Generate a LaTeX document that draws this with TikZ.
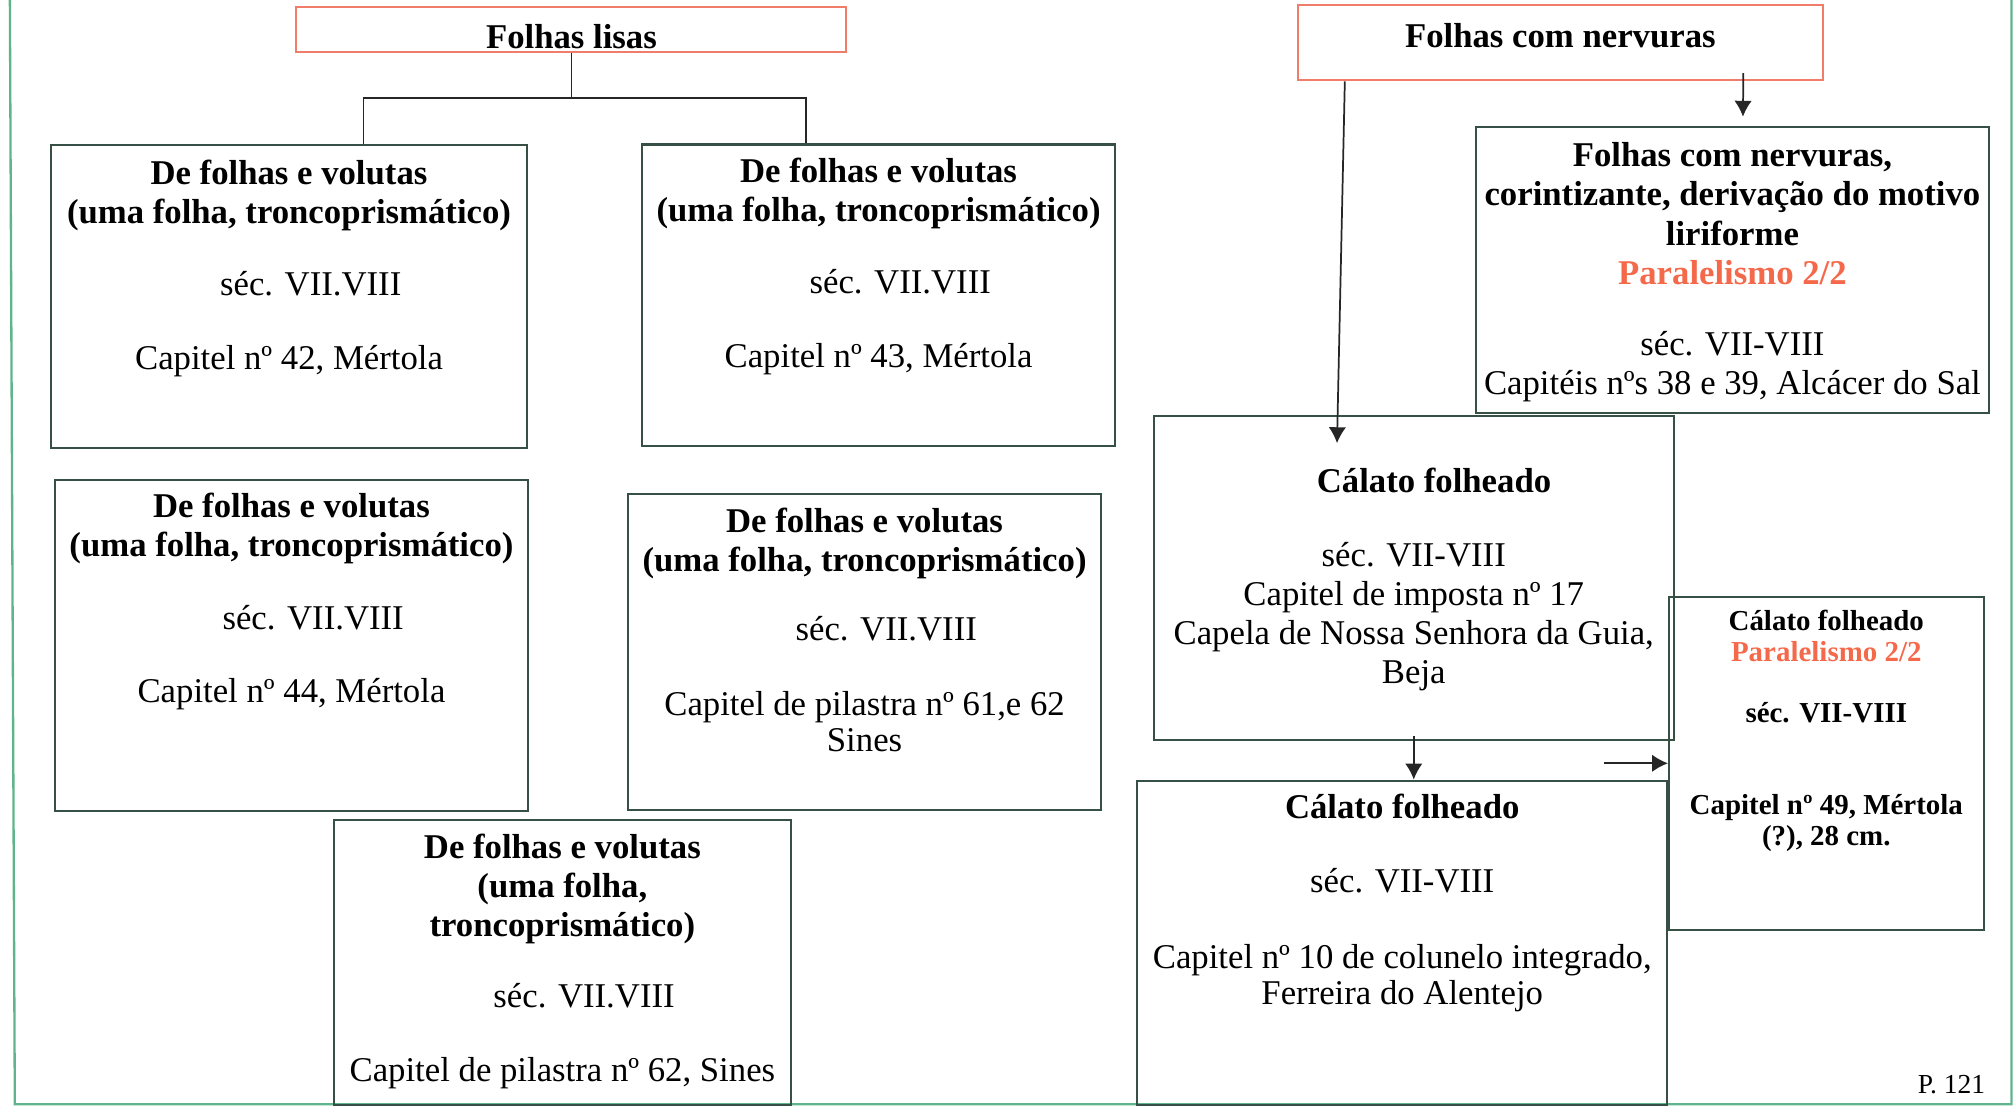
\documentclass[tikz,border=0pt]{standalone}
\usepackage{fontspec}
\setmainfont{Liberation Serif}
\usetikzlibrary{positioning,arrows.meta}
\definecolor{verdeescuro}{RGB}{55,80,70}
\definecolor{salmao}{RGB}{240,125,105}
\definecolor{laranja}{RGB}{245,105,75}
\definecolor{moldura}{RGB}{95,180,140}
\begin{document}
\begin{tikzpicture}[
  caixa/.style={draw=verdeescuro, line width=0.7pt, inner sep=0pt},
  topo/.style={draw=salmao, line width=0.7pt, inner sep=0pt},
  texto/.style={align=center, inner sep=0pt, font=\fontsize{12}{13.5}\selectfont},
  negrito/.style={align=center, inner sep=0pt, font=\fontsize{12}{13.5}\selectfont\bfseries},
  miudo/.style={align=center, inner sep=0pt, font=\fontsize{10}{10.9}\selectfont\bfseries},
  liga/.style={line width=0.6pt, black!85},
  seta/.style={liga, -{Latex[length=5.5pt,width=6pt]}}
]
\useasboundingbox (0,0) rectangle (24.46,-13.43);
% moldura da pagina
\draw [moldura, line width=0.8pt] (0.12,0) -- (0.18,-13.41) -- (24.43,-13.41) -- (24.43,0);

% folhas lisas
\node [topo, minimum width=6.68cm, minimum height=0.54cm] (lisas) at (6.94,-0.36) {};
\node [negrito] (lisas-t) at (6.94,-0.44) {Folhas lisas};
\node [caixa, minimum width=5.77cm, minimum height=3.68cm] (c42) at (3.51,-3.60) {};
\node [texto, below=0.19cm of c42.north] (c42-t) {\textbf{De folhas e volutas}\\\textbf{(uma folha, troncoprismático)}\\[11.5pt]\hspace*{15pt}séc. VII.VIII\\[12pt]Capitel nº 42, Mértola};
\node [caixa, minimum width=5.74cm, minimum height=3.66cm] (c43) at (10.67,-3.585) {};
\node [texto, below=0.17cm of c43.north] (c43-t) {\textbf{De folhas e volutas}\\\textbf{(uma folha, troncoprismático)}\\[11.5pt]\hspace*{15pt}séc. VII.VIII\\[12pt]Capitel nº 43, Mértola};
\node [caixa, minimum width=5.75cm, minimum height=4.03cm] (c44) at (3.54,-7.84) {};
\node [texto, below=0.17cm of c44.north] (c44-t) {\textbf{De folhas e volutas}\\\textbf{(uma folha, troncoprismático)}\\[11.5pt]\hspace*{15pt}séc. VII.VIII\\[12pt]Capitel nº 44, Mértola};
\node [caixa, minimum width=5.74cm, minimum height=3.84cm] (c61) at (10.50,-7.92) {};
\node [texto, below=0.17cm of c61.north] (c61-t) {\textbf{De folhas e volutas}\\\textbf{(uma folha, troncoprismático)}\\[10.5pt]\hspace*{15pt}séc. VII.VIII\\[12.5pt]Capitel de pilastra nº 61,e 62\\[-1pt]Sines};
\node [caixa, minimum width=5.55cm, minimum height=3.455cm] (c62) at (6.83,-11.69) {};
\node [texto, below=0.175cm of c62.north] (c62-t) {\textbf{De folhas e volutas}\\\textbf{(uma folha,}\\\textbf{troncoprismático)}\\[11pt]\hspace*{15pt}séc. VII.VIII\\[12pt]Capitel de pilastra nº 62, Sines};

\coordinate (ramo-a) at (4.415,-1.186);
\coordinate (ramo-b) at (9.791,-1.186);
\draw [liga] (lisas.south) |- (ramo-a) -- (ramo-a |- c42.north);
\draw [liga] (lisas.south) |- (ramo-b) -- (ramo-b |- c43.north);

% folhas com nervuras
\node [topo, minimum width=6.37cm, minimum height=0.91cm] (nervuras) at (18.95,-0.52) {};
\node [negrito] (nervuras-t) at (18.95,-0.43) {Folhas com nervuras};
\node [caixa, minimum width=6.24cm, minimum height=3.48cm] (corint) at (21.04,-3.28) {};
\node [texto, below=0.2cm of corint.north] (corint-t) {\textbf{Folhas com nervuras,}\\\textbf{corintizante, derivação do motivo}\\\textbf{liriforme}\\\textcolor{laranja}{\textbf{Paralelismo 2/2}}\\[11pt]séc. VII-VIII\\Capitéis nºs 38 e 39, Alcácer do Sal};
\node [caixa, minimum width=6.32cm, minimum height=3.93cm] (cal1) at (17.17,-7.02) {};
\node [texto, below=0.64cm of cal1.north] (cal1-t) {\hspace*{14pt}\textbf{Cálato folheado}\\[12pt]séc. VII-VIII\\Capitel de imposta nº 17\\Capela de Nossa Senhora da Guia,\\Beja};
\node [caixa, minimum width=6.44cm, minimum height=3.94cm] (cal2) at (17.03,-11.45) {};
\node [texto, below=0.17cm of cal2.north] (cal2-t) {\textbf{Cálato folheado}\\[12pt]séc. VII-VIII\\[12.7pt]Capitel nº 10 de colunelo integrado,\\[-1pt]Ferreira do Alentejo};
\node [caixa, minimum width=3.82cm, minimum height=4.04cm] (cali) at (22.18,-9.27) {};
\node [miudo, below=0.16cm of cali.north] (cali-t) {Cálato folheado\\\textcolor{laranja}{Paralelismo 2/2}\\[10pt]séc. VII-VIII\\[21pt]Capitel nº 49, Mértola\\(?), 28 cm.};

\draw [seta] ([xshift=0.58cm]nervuras.south west) -- ([xshift=2.24cm,yshift=-0.34cm]cal1.north west);
\draw [seta] ([xshift=5.42cm,yshift=0.1cm]nervuras.south west) -- ([xshift=3.26cm,yshift=0.11cm]corint.north west);
\draw [seta] ([yshift=0.06cm]cal1.south) -- (cal1.south |- cal2.north);
\draw [seta] ([xshift=-0.78cm]cali.west) -- (cali.west);

\node [inner sep=0pt, font=\fontsize{9.5}{10}\selectfont] (pagina) at (23.70,-13.17) {P. 121};
\end{tikzpicture}
\end{document}
